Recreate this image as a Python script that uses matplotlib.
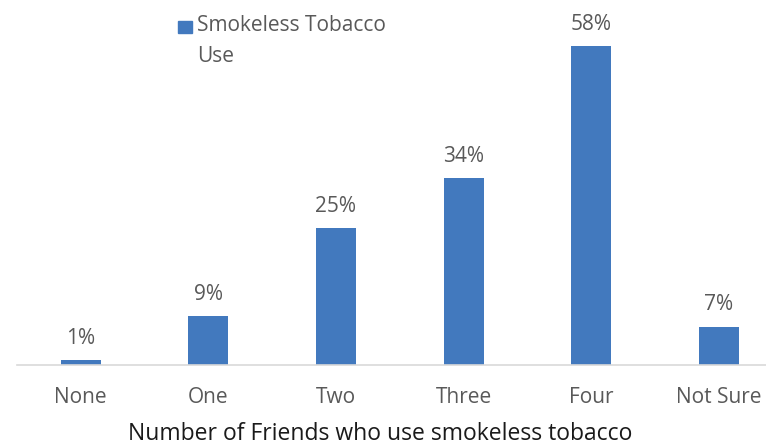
import matplotlib.pyplot as plt
from matplotlib.patches import Rectangle

categories = ['None', 'One', 'Two', 'Three', 'Four', 'Not Sure']
values = [1, 9, 25, 34, 58, 7]
series_name = 'Smokeless Tobacco\nUse'
xlabel = 'Number of Friends who use smokeless tobacco'

bar_color = '#4279BE'
text_gray = '#595959'

plt.rcParams['font.family'] = ['Open Sans', 'DejaVu Sans']

W, H = 766, 447
fig = plt.figure(figsize=(W / 100, H / 100), dpi=100)

# axes placed in pixel terms: baseline at y=365, 127.6 px per category
left, base = 17, 365
step = 127.6
px_per_pct = 5.5
ymax = 60
ax = fig.add_axes([left / W, (H - base) / H, 6 * step / W, ymax * px_per_pct / H])

x = range(len(categories))
ax.bar(x, values, width=40 / step, color=bar_color, zorder=2)
for i, v in zip(x, values):
    ax.text(i, v + 2.0, f'{v}%', ha='center', va='bottom', fontsize=15, color=text_gray)

ax.set_xlim(-0.5, len(categories) - 0.5)
ax.set_ylim(0, ymax)
ax.set_xticks(list(x))
ax.set_xticklabels(categories, fontsize=15, color=text_gray)
ax.tick_params(axis='x', length=0, pad=16)
ax.set_yticks([])
for s in ['top', 'right', 'left']:
    ax.spines[s].set_visible(False)
ax.spines['bottom'].set_color('#d9d9d9')
ax.spines['bottom'].set_linewidth(1.2)

fig.text(380 / W, 1 - 434 / H, xlabel, ha='center', va='center', fontsize=16.5, color='#1a1a1a')

# legend
fig.patches.append(Rectangle((178 / W, 1 - 33 / H), 14 / W, 12 / H,
                             transform=fig.transFigure, color=bar_color))
fig.text(197 / W, 1 - 15 / H, series_name, ha='left', va='top', fontsize=15,
         color=text_gray, linespacing=1.65)

fig.savefig('out.png', dpi=100)
